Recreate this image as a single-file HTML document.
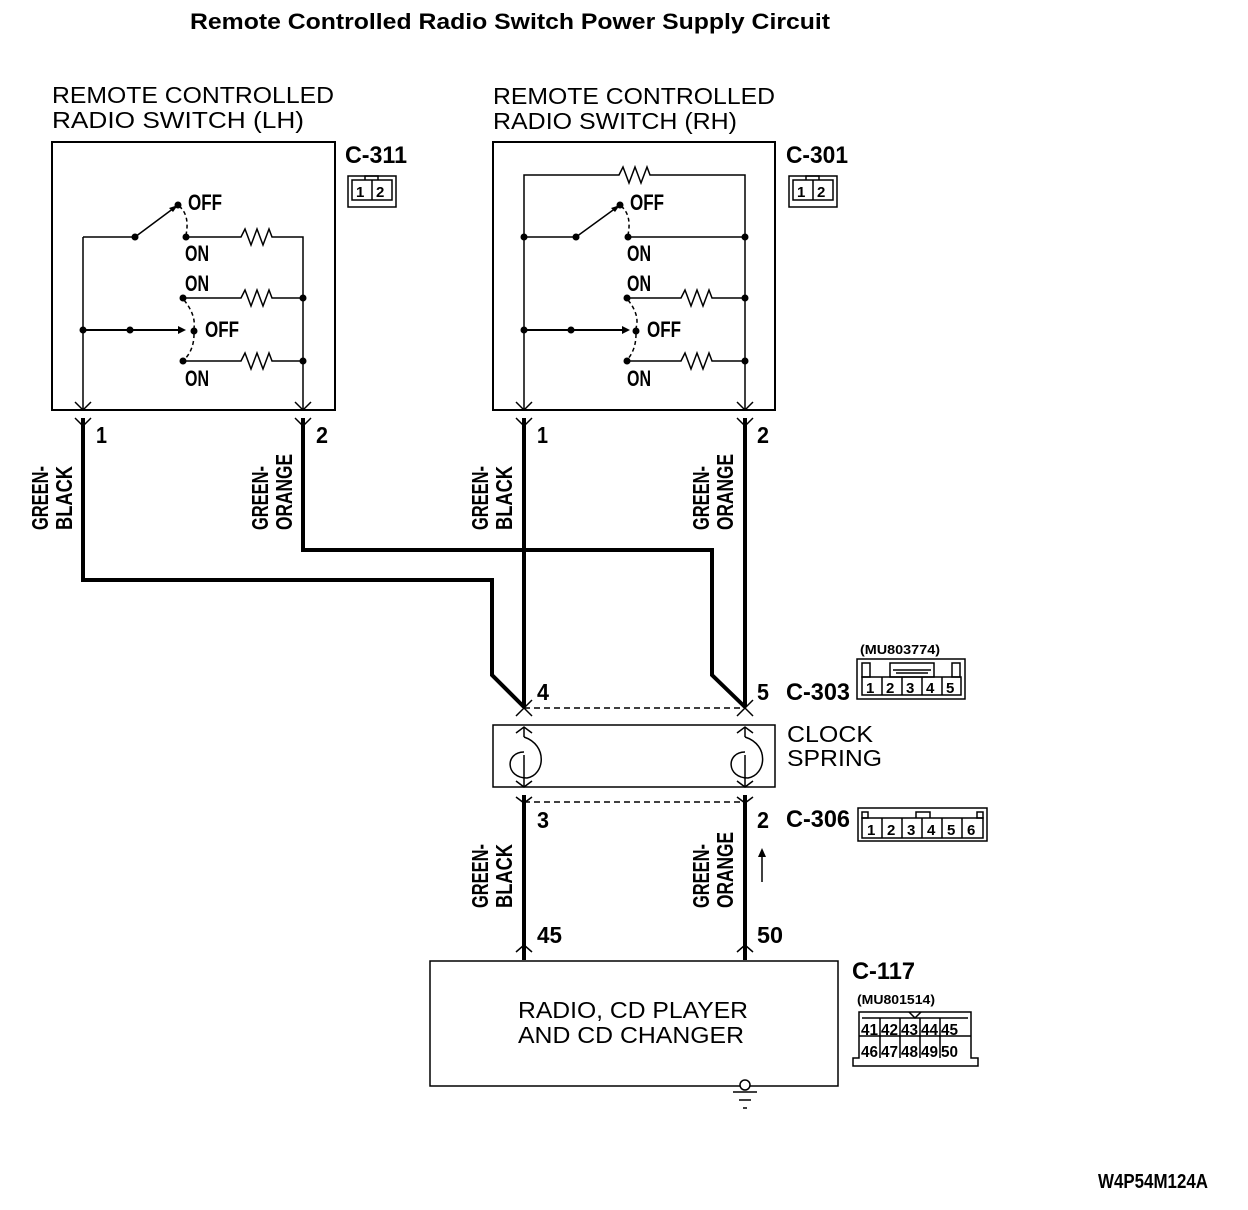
<!DOCTYPE html>
<html><head><meta charset="utf-8"><style>
html,body{margin:0;padding:0;background:#fff}
svg{display:block}
text{font-family:"Liberation Sans",sans-serif;fill:#000}
.b{font-weight:bold}
</style></head><body>
<svg width="1248" height="1210" viewBox="0 0 1248 1210" xmlns="http://www.w3.org/2000/svg">
<text x="190" y="29" class="b" font-size="22" textLength="640" lengthAdjust="spacingAndGlyphs">Remote Controlled Radio Switch Power Supply Circuit</text>

<!-- LH -->
<text x="52" y="103" font-size="23" textLength="282" lengthAdjust="spacingAndGlyphs">REMOTE CONTROLLED</text>
<text x="52" y="128" font-size="23" textLength="252" lengthAdjust="spacingAndGlyphs">RADIO SWITCH (LH)</text>
<rect x="52" y="142" width="283" height="268" fill="none" stroke="#000" stroke-width="2"/>
<g stroke="#000" stroke-width="1.5" fill="none">
<path d="M83,237 V410 M83,237 H135 M186,237 H238 l3,0 l4,-8 l6,16 l6,-16 l6,16 l6,-16 l3,8 H303 V410"/>
<path d="M135,237 L178,205"/>
<path d="M183,298 H238 l3,0 l4,-8 l6,16 l6,-16 l6,16 l6,-16 l3,8 H303"/>
<path d="M183,361 H238 l3,0 l4,-8 l6,16 l6,-16 l6,16 l6,-16 l3,8 H303"/>
<path d="M83,330 H180" stroke-width="2"/>
<path d="M179,206 Q190,215 186,235 M184,300 Q196,315 194,328 M194,334 Q194,350 184,360" stroke-dasharray="4,3"/>
</g>
<g fill="#000">
<circle cx="135" cy="237" r="3.5"/><circle cx="178" cy="205" r="3.5"/><circle cx="186" cy="237" r="3.5"/>
<circle cx="183" cy="298" r="3.5"/><circle cx="303" cy="298" r="3.5"/><circle cx="83" cy="330" r="3.5"/>
<circle cx="130" cy="330" r="3.5"/><circle cx="194" cy="331" r="3.5"/><circle cx="183" cy="361" r="3.5"/><circle cx="303" cy="361" r="3.5"/>
<path d="M186,330 l-8,-4 v8z M178,205 l-9,3 l4,4z"/>
</g>
<g class="b" font-size="22">
<text x="188" y="210" textLength="34" lengthAdjust="spacingAndGlyphs">OFF</text><text x="185" y="261" textLength="24" lengthAdjust="spacingAndGlyphs">ON</text>
<text x="185" y="291" textLength="24" lengthAdjust="spacingAndGlyphs">ON</text><text x="205" y="337" textLength="34" lengthAdjust="spacingAndGlyphs">OFF</text>
<text x="185" y="386" textLength="24" lengthAdjust="spacingAndGlyphs">ON</text>
<text x="345" y="163" font-size="24" textLength="62" lengthAdjust="spacingAndGlyphs">C-311</text>
</g>
<rect x="348" y="176" width="48" height="31" fill="none" stroke="#000" stroke-width="1.5"/>
<rect x="352" y="180" width="40" height="20" fill="none" stroke="#000" stroke-width="1.5"/>
<path d="M372,180 V200 M365,180 v-4 h13 v4" stroke="#000" fill="none" stroke-width="1.5"/>
<text x="356" y="197" class="b" font-size="15">1</text><text x="376" y="197" class="b" font-size="15">2</text>

<!-- RH -->
<text x="493" y="104" font-size="23" textLength="282" lengthAdjust="spacingAndGlyphs">REMOTE CONTROLLED</text>
<text x="493" y="129" font-size="23" textLength="244" lengthAdjust="spacingAndGlyphs">RADIO SWITCH (RH)</text>
<rect x="493" y="142" width="282" height="268" fill="none" stroke="#000" stroke-width="2"/>
<g stroke="#000" stroke-width="1.5" fill="none">
<path d="M524,410 V175 H616 l3,0 l4,-8 l6,16 l6,-16 l6,16 l6,-16 l3,8 H745 V410"/>
<path d="M524,237 H576 L620,205 M628,237 H745"/>
<path d="M627,298 H678 l3,0 l4,-8 l6,16 l6,-16 l6,16 l6,-16 l3,8 H745"/>
<path d="M627,361 H678 l3,0 l4,-8 l6,16 l6,-16 l6,16 l6,-16 l3,8 H745"/>
<path d="M524,330 H622" stroke-width="2"/>
<path d="M621,206 Q632,215 628,235 M628,300 Q640,315 636,328 M636,334 Q636,350 627,360" stroke-dasharray="4,3"/>
</g>
<g fill="#000">
<circle cx="524" cy="237" r="3.5"/><circle cx="576" cy="237" r="3.5"/><circle cx="620" cy="205" r="3.5"/><circle cx="628" cy="237" r="3.5"/><circle cx="745" cy="237" r="3.5"/>
<circle cx="627" cy="298" r="3.5"/><circle cx="745" cy="298" r="3.5"/><circle cx="524" cy="330" r="3.5"/>
<circle cx="571" cy="330" r="3.5"/><circle cx="636" cy="331" r="3.5"/><circle cx="627" cy="361" r="3.5"/><circle cx="745" cy="361" r="3.5"/>
<path d="M630,330 l-8,-4 v8z M620,205 l-9,3 l4,4z"/>
</g>
<g class="b" font-size="22">
<text x="630" y="210" textLength="34" lengthAdjust="spacingAndGlyphs">OFF</text><text x="627" y="261" textLength="24" lengthAdjust="spacingAndGlyphs">ON</text>
<text x="627" y="291" textLength="24" lengthAdjust="spacingAndGlyphs">ON</text><text x="647" y="337" textLength="34" lengthAdjust="spacingAndGlyphs">OFF</text>
<text x="627" y="386" textLength="24" lengthAdjust="spacingAndGlyphs">ON</text>
<text x="786" y="163" font-size="24" textLength="62" lengthAdjust="spacingAndGlyphs">C-301</text>
</g>
<rect x="789" y="176" width="48" height="31" fill="none" stroke="#000" stroke-width="1.5"/>
<rect x="793" y="180" width="40" height="20" fill="none" stroke="#000" stroke-width="1.5"/>
<path d="M813,180 V200 M806,180 v-4 h13 v4" stroke="#000" fill="none" stroke-width="1.5"/>
<text x="797" y="197" class="b" font-size="15">1</text><text x="817" y="197" class="b" font-size="15">2</text>

<g stroke="#000" stroke-width="1.5" fill="none">
<path d="M75,402 L83,410 L91,402 M75,418 L83,426 L91,418"/>
<path d="M295,402 L303,410 L311,402 M295,418 L303,426 L311,418"/>
<path d="M516,402 L524,410 L532,402 M516,418 L524,426 L532,418"/>
<path d="M737,402 L745,410 L753,402 M737,418 L745,426 L753,418"/>
</g>

<g stroke="#000" stroke-width="4" fill="none">
<path d="M83,418 V580 H492 V675 L524,707"/>
<path d="M303,418 V550 H712 V675 L745,707"/>
<path d="M524,418 V707"/>
<path d="M745,418 V707"/>
<path d="M524,795 V960"/>
<path d="M745,795 V960"/>
</g>
<g class="b" font-size="23">
<text x="96" y="443" textLength="11" lengthAdjust="spacingAndGlyphs">1</text><text x="316" y="443" textLength="12" lengthAdjust="spacingAndGlyphs">2</text>
<text x="537" y="443" textLength="11" lengthAdjust="spacingAndGlyphs">1</text><text x="757" y="443" textLength="12" lengthAdjust="spacingAndGlyphs">2</text>
<text x="537" y="700" textLength="12" lengthAdjust="spacingAndGlyphs">4</text><text x="757" y="700" textLength="12" lengthAdjust="spacingAndGlyphs">5</text>
<text x="537" y="828" textLength="12" lengthAdjust="spacingAndGlyphs">3</text><text x="757" y="828" textLength="12" lengthAdjust="spacingAndGlyphs">2</text>
<text x="537" y="943" textLength="25" lengthAdjust="spacingAndGlyphs">45</text><text x="757" y="943" textLength="26" lengthAdjust="spacingAndGlyphs">50</text>
</g>
<g class="b" font-size="23">
<text transform="translate(48,530) rotate(-90)" textLength="64" lengthAdjust="spacingAndGlyphs">GREEN-</text>
<text transform="translate(72,530) rotate(-90)" textLength="64" lengthAdjust="spacingAndGlyphs">BLACK</text>
<text transform="translate(268,530) rotate(-90)" textLength="64" lengthAdjust="spacingAndGlyphs">GREEN-</text>
<text transform="translate(292,530) rotate(-90)" textLength="76" lengthAdjust="spacingAndGlyphs">ORANGE</text>
<text transform="translate(488,530) rotate(-90)" textLength="64" lengthAdjust="spacingAndGlyphs">GREEN-</text>
<text transform="translate(512,530) rotate(-90)" textLength="64" lengthAdjust="spacingAndGlyphs">BLACK</text>
<text transform="translate(709,530) rotate(-90)" textLength="64" lengthAdjust="spacingAndGlyphs">GREEN-</text>
<text transform="translate(733,530) rotate(-90)" textLength="76" lengthAdjust="spacingAndGlyphs">ORANGE</text>
<text transform="translate(488,908) rotate(-90)" textLength="64" lengthAdjust="spacingAndGlyphs">GREEN-</text>
<text transform="translate(512,908) rotate(-90)" textLength="64" lengthAdjust="spacingAndGlyphs">BLACK</text>
<text transform="translate(709,908) rotate(-90)" textLength="64" lengthAdjust="spacingAndGlyphs">GREEN-</text>
<text transform="translate(733,908) rotate(-90)" textLength="76" lengthAdjust="spacingAndGlyphs">ORANGE</text>
</g>

<path d="M524,708 H745 M524,802 H745" stroke="#000" stroke-width="1.5" stroke-dasharray="6,4"/>
<rect x="493" y="725" width="282" height="62" fill="none" stroke="#000" stroke-width="1.5"/>
<g stroke="#000" stroke-width="1.5" fill="none">
<path d="M516,716 L524,708 L532,716 M516,700 L524,708 L532,700"/>
<path d="M737,716 L745,708 L753,716 M737,700 L745,708 L753,700"/>
<path d="M516,733 L524,727 L532,733 M737,733 L745,727 L753,733"/>
<path d="M516,781 L524,787 L532,781 M737,781 L745,787 L753,781"/>
<path d="M516,797 L524,803 L532,797 M737,797 L745,803 L753,797"/>
<path d="M524,727 V737 M524,755 V787 M745,727 V737 M745,755 V787"/>
<path d="M524,737 C548,745 545,775 527,778 C505,778 505,752 524,752"/>
<path d="M745,737 C770,745 766,775 748,778 C726,778 726,752 745,752"/>
<path d="M516,952 L524,945 L532,952 M737,952 L745,945 L753,952"/>
<path d="M762,882 V852"/>
</g>
<path d="M762,848 l-4,9 h8z" fill="#000"/>
<text x="787" y="742" font-size="23" textLength="86" lengthAdjust="spacingAndGlyphs">CLOCK</text>
<text x="787" y="766" font-size="23" textLength="95" lengthAdjust="spacingAndGlyphs">SPRING</text>

<g class="b" font-size="24">
<text x="786" y="700" textLength="64" lengthAdjust="spacingAndGlyphs">C-303</text>
<text x="786" y="827" textLength="64" lengthAdjust="spacingAndGlyphs">C-306</text>
<text x="852" y="979" textLength="63" lengthAdjust="spacingAndGlyphs">C-117</text>
</g>
<g class="b" font-size="13">
<text x="860" y="654" textLength="80" lengthAdjust="spacingAndGlyphs">(MU803774)</text>
<text x="857" y="1004" textLength="78" lengthAdjust="spacingAndGlyphs">(MU801514)</text>
</g>
<g stroke="#000" stroke-width="1.5" fill="none">
<rect x="857" y="659" width="108" height="40"/>
<rect x="862" y="677" width="99" height="18"/>
<path d="M882,677V695 M902,677V695 M922,677V695 M942,677V695"/>
<rect x="862" y="663" width="8" height="14"/><rect x="952" y="663" width="8" height="14"/>
<rect x="890" y="663" width="44" height="14"/><path d="M893,670 H931 M896,673 H928"/>
<rect x="858" y="808" width="129" height="33"/>
<rect x="862" y="818" width="121" height="20"/>
<path d="M882,818V838 M902,818V838 M922,818V838 M942,818V838 M962,818V838"/>
<rect x="862" y="812" width="6" height="6"/><rect x="977" y="812" width="6" height="6"/>
<path d="M916,818 v-6 h14 v6"/>
<path d="M853,1058 H859 V1012 H971 V1058 H978 V1066 H853Z"/>
<path d="M859,1036 H971 M880,1018V1058 M900,1018V1058 M920,1018V1058 M940,1018V1058 M862,1018 H968"/>
<path d="M909,1012 l6,6 l6,-6"/>
</g>
<g class="b" font-size="15">
<text x="866" y="693">1</text><text x="886" y="693">2</text><text x="906" y="693">3</text><text x="926" y="693">4</text><text x="946" y="693">5</text>
<text x="867" y="835">1</text><text x="887" y="835">2</text><text x="907" y="835">3</text><text x="927" y="835">4</text><text x="947" y="835">5</text><text x="967" y="835">6</text>
</g>
<g class="b" font-size="16">
<text x="861" y="1035" textLength="17" lengthAdjust="spacingAndGlyphs">41</text><text x="881" y="1035" textLength="17" lengthAdjust="spacingAndGlyphs">42</text><text x="901" y="1035" textLength="17" lengthAdjust="spacingAndGlyphs">43</text><text x="921" y="1035" textLength="17" lengthAdjust="spacingAndGlyphs">44</text><text x="941" y="1035" textLength="17" lengthAdjust="spacingAndGlyphs">45</text>
<text x="861" y="1057" textLength="17" lengthAdjust="spacingAndGlyphs">46</text><text x="881" y="1057" textLength="17" lengthAdjust="spacingAndGlyphs">47</text><text x="901" y="1057" textLength="17" lengthAdjust="spacingAndGlyphs">48</text><text x="921" y="1057" textLength="17" lengthAdjust="spacingAndGlyphs">49</text><text x="941" y="1057" textLength="17" lengthAdjust="spacingAndGlyphs">50</text>
</g>

<rect x="430" y="961" width="408" height="125" fill="none" stroke="#000" stroke-width="1.5"/>
<text x="518" y="1018" font-size="23" textLength="230" lengthAdjust="spacingAndGlyphs">RADIO, CD PLAYER</text>
<text x="518" y="1043" font-size="23" textLength="226" lengthAdjust="spacingAndGlyphs">AND CD CHANGER</text>
<circle cx="745" cy="1085" r="5" fill="#fff" stroke="#000" stroke-width="1.5"/>
<path d="M733,1092 H757 M739,1100 H751 M743,1108 H747" stroke="#000" stroke-width="1.5"/>

<text x="1098" y="1188" class="b" font-size="20" textLength="110" lengthAdjust="spacingAndGlyphs">W4P54M124A</text>
</svg>
</body></html>
